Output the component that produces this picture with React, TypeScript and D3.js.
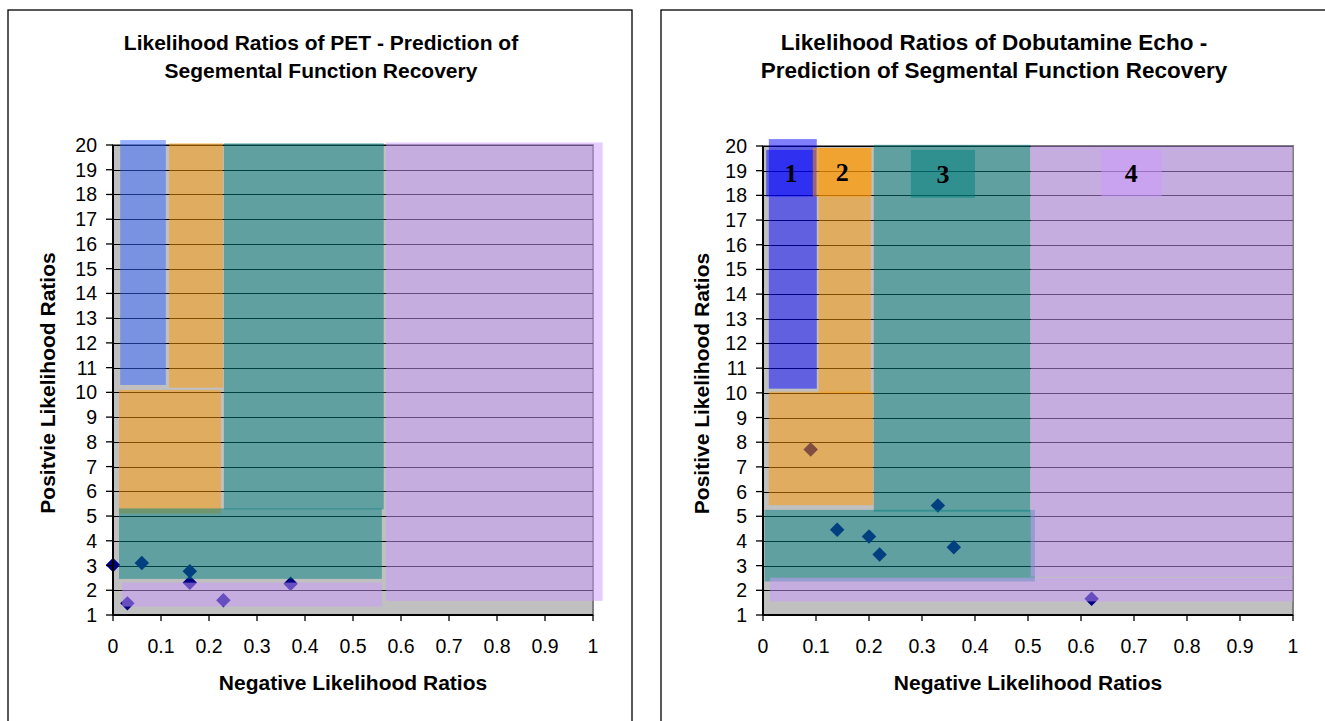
import React from 'react';
import * as d3 from 'd3';

// ---------- data ----------
const xTickValues = [0, 0.1, 0.2, 0.3, 0.4, 0.5, 0.6, 0.7, 0.8, 0.9, 1];
const xTickLabels = ['0', '0.1', '0.2', '0.3', '0.4', '0.5', '0.6', '0.7', '0.8', '0.9', '1'];
const yTickValues = [1, 2, 3, 4, 5, 6, 7, 8, 9, 10, 11, 12, 13, 14, 15, 16, 17, 18, 19, 20];
const yTickLabels = ['1', '2', '3', '4', '5', '6', '7', '8', '9', '10', '11', '12', '13', '14', '15', '16', '17', '18', '19', '20'];

// PET study points (negative LR, positive LR)
const petNegLR = [0, 0.06, 0.16, 0.16, 0.37, 0.03, 0.23];
const petPosLR = [3.02, 3.1, 2.77, 2.3, 2.26, 1.47, 1.6];

// Dobutamine echo study points
const echoNegLR = [0.09, 0.14, 0.2, 0.22, 0.33, 0.36, 0.62];
const echoPosLR = [7.7, 4.45, 4.18, 3.45, 5.44, 3.74, 1.66];

// shaded zones: colour key, x from/to (negative LR), y from/to (positive LR)
const petZoneColor = ['blue', 'orange', 'orange', 'teal', 'teal', 'purple', 'purple'];
const petZoneX0 = [0.015, 0.117, 0.0125, 0.231, 0.0125, 0.569, 0.019];
const petZoneX1 = [0.11, 0.229, 0.225, 0.564, 0.56, 1.02, 0.56];
const petZoneY0 = [10.3, 10.19, 5.1, 5.27, 2.46, 1.57, 1.34];
const petZoneY1 = [20.2, 20.07, 10.1, 20.07, 5.31, 20.1, 2.31];

const echoZoneColor = ['blue', 'orange', 'orange', 'teal', 'teal', 'purple', 'purple'];
const echoZoneX0 = [0.011, 0.105, 0.011, 0.209, 0.003, 0.505, 0.013];
const echoZoneX1 = [0.1015, 0.2035, 0.2075, 0.504, 0.513, 1.0, 1.0];
const echoZoneY0 = [10.17, 9.99, 5.45, 5.19, 2.36, 2.55, 1.55];
const echoZoneY1 = [20.28, 19.92, 10.05, 20.05, 5.26, 20.0, 2.51];

// numbered zone labels (echo chart)
const echoLabelText = ['1', '2', '3', '4'];
const echoLabelColor = ['blue', 'orange', 'teal', 'purple'];
const echoLabelX0 = [0.006, 0.094, 0.279, 0.638];
const echoLabelX1 = [0.1, 0.205, 0.4, 0.752];
const echoLabelY0 = [17.95, 17.95, 17.9, 17.95];
const echoLabelY1 = [19.84, 19.92, 19.84, 19.84];

const palettePET: Record<string, string> = { blue: '#3366FF', orange: '#FF9900', teal: '#008080', purple: '#CC99FF' };
const paletteEcho: Record<string, string> = { blue: '#0000FF', orange: '#FF9900', teal: '#008080', purple: '#CC99FF' };

type ChartProps = {
  boxX: number; boxW: number;
  plotL: number; plotR: number; plotT: number; plotB: number;
  title: string[]; titleSize: number; titleX: number;
  yTitle: string; yTitleX: number;
  negLR: number[]; posLR: number[];
  zc: string[]; zx0: number[]; zx1: number[]; zy0: number[]; zy1: number[];
  palette: Record<string, string>;
  labels?: { t: string[]; c: string[]; x0: number[]; x1: number[]; y0: number[]; y1: number[] };
};

const SANS = '"Liberation Sans", Arial, Helvetica, sans-serif';

function Chart(p: ChartProps) {
  const x = d3.scaleLinear().domain([0, 1]).range([p.plotL, p.plotR]);
  const y = d3.scaleLinear().domain([1, 20]).range([p.plotB, p.plotT]);
  const diamond = d3.symbol().type(d3.symbolSquare).size(105)();
  const cx = (p.plotL + p.plotR) / 2;
  return (
    <g>
      <rect x={p.boxX} y={10} width={p.boxW} height={760} fill="#fff" stroke="#000" strokeWidth={1.3} />
      {p.title.map((t, i) => (
        <text key={i} x={p.titleX} y={50 + i * 28} textAnchor="middle" fontFamily={SANS} fontWeight="bold" fontSize={p.titleSize} fill="#000">{t}</text>
      ))}
      {/* plot area */}
      <rect x={p.plotL} y={p.plotT} width={p.plotR - p.plotL} height={p.plotB - p.plotT} fill="#C0C0C0" stroke="#808080" strokeWidth={2} />
      {yTickValues.filter(v => v > 1).map(v => (
        <line key={v} x1={p.plotL} x2={p.plotR} y1={Math.round(y(v)) + 0.5} y2={Math.round(y(v)) + 0.5} stroke="#000" strokeWidth={1} />
      ))}
      {/* points (below the translucent zones) */}
      {p.negLR.map((v, i) => (
        <path key={i} d={diamond!} transform={`translate(${x(v)},${y(p.posLR[i])}) rotate(45)`} fill="#000080" />
      ))}
      {/* zones */}
      {p.zc.map((c, i) => (
        <rect key={i} x={x(p.zx0[i])} y={y(p.zy1[i])} width={x(p.zx1[i]) - x(p.zx0[i])} height={y(p.zy0[i]) - y(p.zy1[i])} fill={p.palette[c]} fillOpacity={0.5} />
      ))}
      {/* axes */}
      <line x1={p.plotL} x2={p.plotL} y1={p.plotT} y2={p.plotB} stroke="#000" strokeWidth={2} />
      <line x1={p.plotL} x2={p.plotR} y1={p.plotB} y2={p.plotB} stroke="#000" strokeWidth={2} />
      {yTickValues.map((v, i) => (
        <g key={v}>
          <line x1={p.plotL - 7} x2={p.plotL} y1={y(v)} y2={y(v)} stroke="#000" strokeWidth={1.3} />
          <text x={p.plotL - 16} y={y(v) + 7} textAnchor="end" fontFamily={SANS} fontSize={19.5} fill="#000">{yTickLabels[i]}</text>
        </g>
      ))}
      {xTickValues.map((v, i) => (
        <g key={v}>
          <line x1={x(v)} x2={x(v)} y1={p.plotB} y2={p.plotB + 6} stroke="#000" strokeWidth={1.3} />
          <text x={x(v)} y={p.plotB + 38} textAnchor="middle" fontFamily={SANS} fontSize={19.5} fill="#000">{xTickLabels[i]}</text>
        </g>
      ))}
      <text x={cx} y={690} textAnchor="middle" fontFamily={SANS} fontWeight="bold" fontSize={21} fill="#000">Negative Likelihood Ratios</text>
      <text transform={`translate(${p.yTitleX},${(p.plotT + p.plotB) / 2 + 3}) rotate(-90)`} textAnchor="middle" fontFamily={SANS} fontWeight="bold" fontSize={21} fill="#000">{p.yTitle}</text>
      {p.labels && p.labels.t.map((t, i) => {
        const L = p.labels!;
        const bx0 = x(L.x0[i]), bx1 = x(L.x1[i]), by0 = y(L.y1[i]), by1 = y(L.y0[i]);
        return (
          <g key={t}>
            <rect x={bx0} y={by0} width={bx1 - bx0} height={by1 - by0} fill={p.palette[L.c[i]]} fillOpacity={0.5} />
            <text x={(bx0 + bx1) / 2} y={(by0 + by1) / 2 + 9} textAnchor="middle" fontFamily='"Liberation Serif", "Times New Roman", serif' fontWeight="bold" fontSize={26} fill="#000">{t}</text>
          </g>
        );
      })}
    </g>
  );
}

export default function App() {
  return (
    <svg width={1325} height={721} style={{ position: 'absolute', left: 0, top: 0 }}>
      <rect x={0} y={0} width={1325} height={721} fill="#fff" />
      <Chart
        boxX={8} boxW={624}
        plotL={113} plotR={593} plotT={145} plotB={615}
        title={['Likelihood Ratios of PET - Prediction of', 'Segemental Function Recovery']}
        titleSize={21} titleX={321}
        yTitle="Positvie Likelihood Ratios" yTitleX={55}
        negLR={petNegLR} posLR={petPosLR}
        zc={petZoneColor} zx0={petZoneX0} zx1={petZoneX1} zy0={petZoneY0} zy1={petZoneY1}
        palette={palettePET}
      />
      <Chart
        boxX={661} boxW={666}
        plotL={763} plotR={1293} plotT={146} plotB={615}
        title={['Likelihood Ratios of Dobutamine Echo -', 'Prediction of Segmental Function Recovery']}
        titleSize={22.5} titleX={994}
        yTitle="Positive Likelihood Ratios" yTitleX={709}
        negLR={echoNegLR} posLR={echoPosLR}
        zc={echoZoneColor} zx0={echoZoneX0} zx1={echoZoneX1} zy0={echoZoneY0} zy1={echoZoneY1}
        palette={paletteEcho}
        labels={{ t: echoLabelText, c: echoLabelColor, x0: echoLabelX0, x1: echoLabelX1, y0: echoLabelY0, y1: echoLabelY1 }}
      />
    </svg>
  );
}
